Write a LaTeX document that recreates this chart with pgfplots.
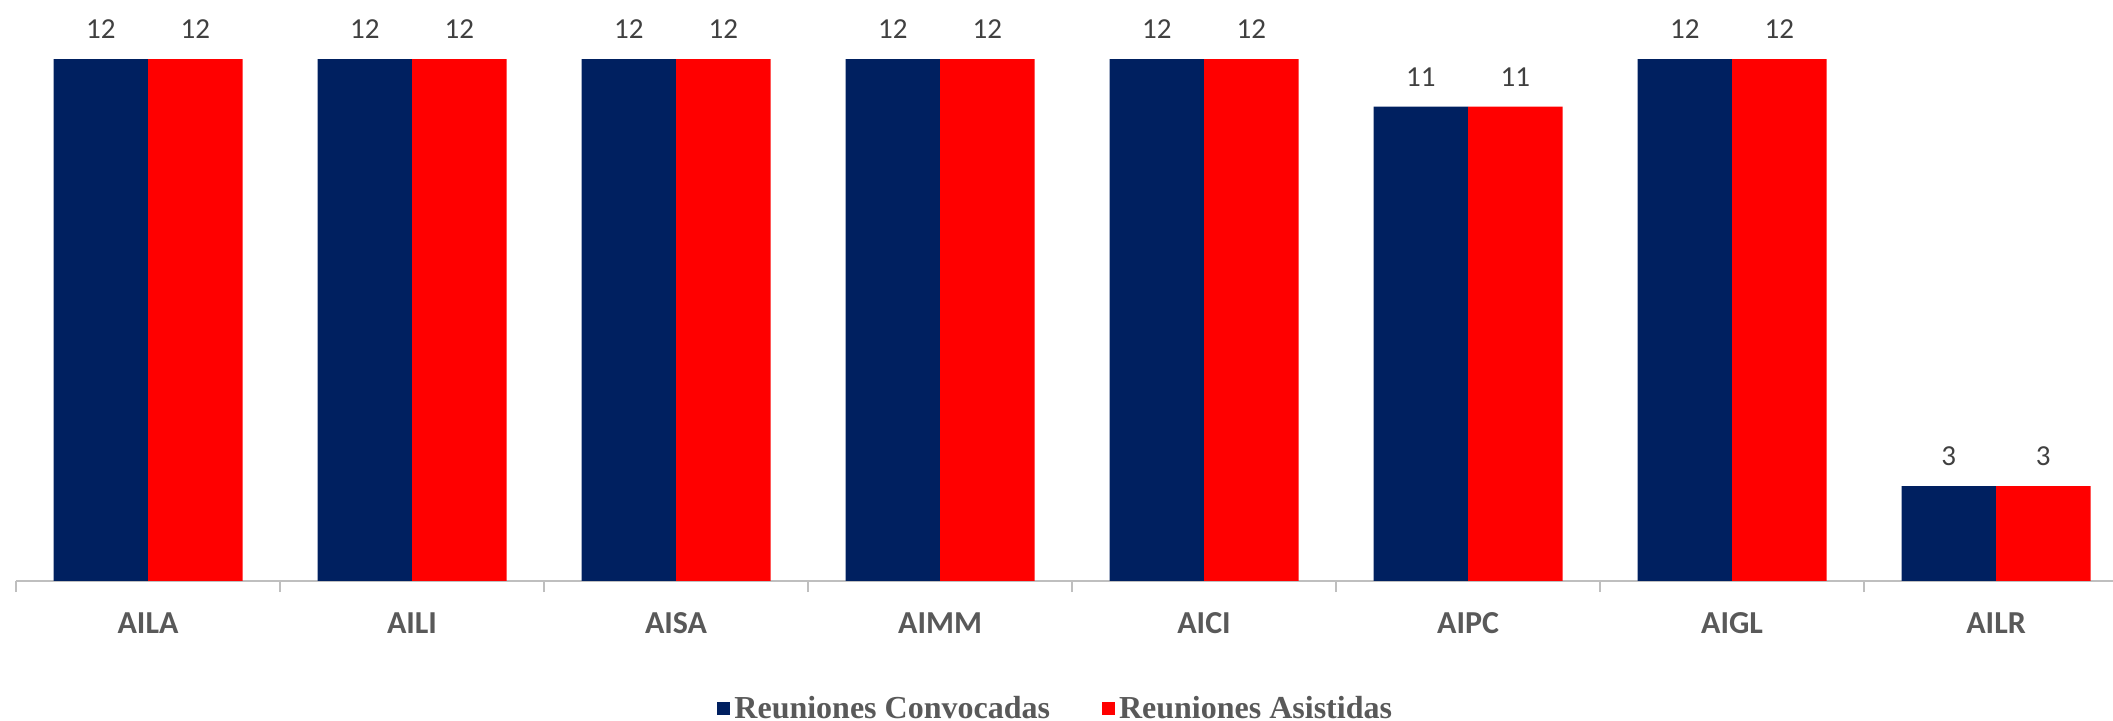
\documentclass[border=0pt]{standalone}
\usepackage{fontspec}
\setmainfont{Carlito}
\newfontfamily\legendfont{Liberation Serif}
\usepackage{pgfplots}
\pgfplotsset{compat=1.18}
\definecolor{navyexcel}{HTML}{002060}
\definecolor{redexcel}{HTML}{FF0000}
\definecolor{axisgray}{HTML}{BFBFBF}
\definecolor{labelgray}{HTML}{595959}
\definecolor{valgray}{HTML}{404040}
\begin{document}
\begin{tikzpicture}
\path[use as bounding box] (-8pt,-70pt) rectangle (1048.5pt,290.5pt);
\begin{axis}[
    scale only axis,
    width=1048.5pt, height=290.5pt,
    ybar=0pt, bar width=47.25pt,
    xmin=-0.5, xmax=7.443, ymin=1, ymax=13.245,
    axis x line*=bottom, axis y line=none,
    x axis line style={-, axisgray, line width=1pt},
    xtick={0,...,7},
    xticklabels={AILA,AILI,AISA,AIMM,AICI,AIPC,AIGL,AILR},
    minor xtick={-0.5,0.5,...,6.5},
    major tick length=0pt, minor tick length=5.5pt,
    tick align=outside,
    tick style={axisgray, line width=1pt},
    xticklabel style={font=\bfseries\fontsize{16}{16}\selectfont, text=labelgray, anchor=base, yshift=-26.5pt},
    /pgf/number format/assume math mode=true,
    nodes near coords,
    every node near coord/.append style={font=\fontsize{14.5}{14.5}\selectfont, text=valgray, inner sep=0pt, yshift=10pt},
    legend columns=2,
    legend style={draw=none, fill=none, at={(0.3343,-0.2194)}, anchor=west, inner sep=0pt,
        font=\legendfont\bfseries\fontsize{16}{16}\selectfont, text=labelgray,
        /tikz/every even column/.append style={column sep=24pt}},
    legend image code/.code={\fill[#1] (0pt,-3.25pt) rectangle (6.5pt,3.25pt);},
    clip=false,
]
\addplot[fill=navyexcel, draw=none] coordinates {
    (0,12) (1,12) (2,12) (3,12) (4,12) (5,11) (6,12) (7,3)
};
\addlegendentry{Reuniones Convocadas}
\addplot[fill=redexcel, draw=none] coordinates {
    (0,12) (1,12) (2,12) (3,12) (4,12) (5,11) (6,12) (7,3)
};
\addlegendentry{Reuniones Asistidas}
\end{axis}
\end{tikzpicture}
\end{document}
